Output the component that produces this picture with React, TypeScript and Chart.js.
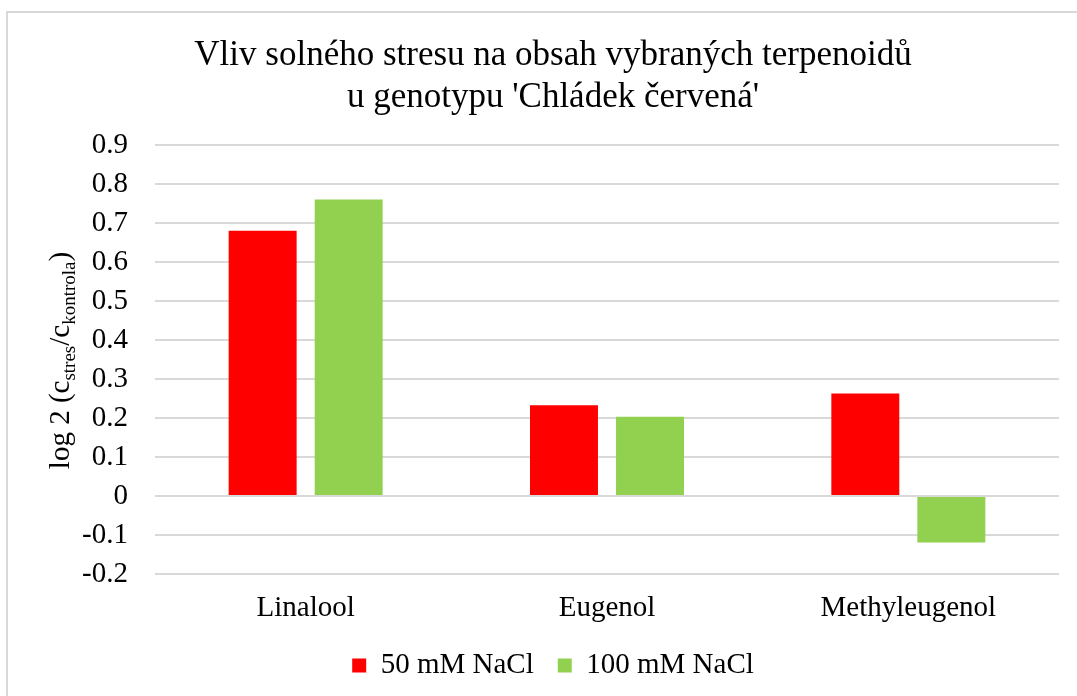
import React, { useEffect, useRef } from "react";
import { Chart, registerables } from "chart.js";

Chart.register(...registerables);

const categories = ["Linalool", "Eugenol", "Methyleugenol"];
const nacl50 = [0.68, 0.233, 0.263];
const nacl100 = [0.76, 0.203, -0.119];
const seriesLabels = ["50 mM NaCl", "100 mM NaCl"];
const titleLines = ["Vliv solného stresu na obsah vybraných terpenoidů", "u genotypu 'Chládek červená'"];
const yLabelParts = [
  { t: "log 2 (c", sub: false },
  { t: "stres", sub: true },
  { t: "/c", sub: false },
  { t: "kontrola", sub: true },
  { t: ")", sub: false },
];

const FONT = "'Liberation Serif', 'Times New Roman', serif";
const W = 1094;
const H = 677;

const yTitlePlugin = {
  id: "yTitleSub",
  afterDraw(chart: any) {
    const ctx = chart.ctx as CanvasRenderingContext2D;
    const area = chart.chartArea;
    const main = `29px ${FONT}`;
    const sub = `19px ${FONT}`;
    ctx.save();
    let total = 0;
    const widths = yLabelParts.map((p) => {
      ctx.font = p.sub ? sub : main;
      const w = ctx.measureText(p.t).width;
      total += w;
      return w;
    });
    ctx.translate(61, (area.top + area.bottom) / 2 + 1);
    ctx.rotate(-Math.PI / 2);
    ctx.fillStyle = "#000";
    ctx.textBaseline = "alphabetic";
    ctx.textAlign = "left";
    let x = -total / 2;
    yLabelParts.forEach((p, i) => {
      ctx.font = p.sub ? sub : main;
      ctx.fillText(p.t, x, p.sub ? 6 : 0);
      x += widths[i];
    });
    ctx.restore();
  },
};

export default function App() {
  const ref = useRef<HTMLCanvasElement>(null);
  useEffect(() => {
    if (!ref.current) return;
    const chart = new Chart(ref.current, {
      type: "bar",
      data: {
        labels: categories,
        datasets: [
          { label: seriesLabels[0], data: nacl50, backgroundColor: "#FF0000", borderWidth: 0 },
          { label: seriesLabels[1], data: nacl100, backgroundColor: "#92D050", borderWidth: 0 },
        ],
      },
      options: {
        responsive: false,
        animation: false,
        layout: { padding: { left: 39, right: 43, top: 0, bottom: 0 } },
        datasets: { bar: { categoryPercentage: 0.571, barPercentage: 0.79 } },
        plugins: {
          title: {
            display: true,
            text: titleLines,
            color: "#000",
            font: { family: FONT, size: 35, weight: "normal", lineHeight: 1.2 },
            padding: { top: 22, bottom: 26 },
          },
          legend: {
            display: true,
            position: "bottom",
            labels: {
              boxWidth: 14,
              boxHeight: 14,
              color: "#000",
              padding: 24,
              font: { family: FONT, size: 29 },
            },
          },
          tooltip: { enabled: false },
        },
        scales: {
          x: {
            afterFit(scale: any) {
              scale.height = 53;
            },
            grid: { display: false, drawTicks: false },
            border: { display: false },
            ticks: { color: "#000", padding: 17, font: { family: FONT, size: 29 } },
          },
          y: {
            min: -0.2,
            max: 0.9,
            afterFit(scale: any) {
              scale.width = 108;
            },
            grid: { color: "#d9d9d9", lineWidth: 2, drawTicks: false },
            border: { display: false },
            ticks: {
              stepSize: 0.1,
              color: "#000",
              padding: 27,
              font: { family: FONT, size: 29 },
              callback: (v: any) => (Math.abs(Number(v)) < 1e-9 ? "0" : Number(v).toFixed(1)),
            },
          },
        },
      },
      plugins: [yTitlePlugin],
    });
    return () => chart.destroy();
  }, []);

  return (
    <div style={{ position: "fixed", inset: 0, overflow: "hidden", background: "#fff" }}>
      <div
        style={{
          position: "absolute",
          left: 6,
          top: 11,
          width: W + 4,
          height: H + 40,
          border: "2px solid #d9d9d9",
          boxSizing: "border-box",
        }}
      >
        <canvas ref={ref} width={W} height={H} style={{ display: "block", width: W, height: H }} />
      </div>
    </div>
  );
}
